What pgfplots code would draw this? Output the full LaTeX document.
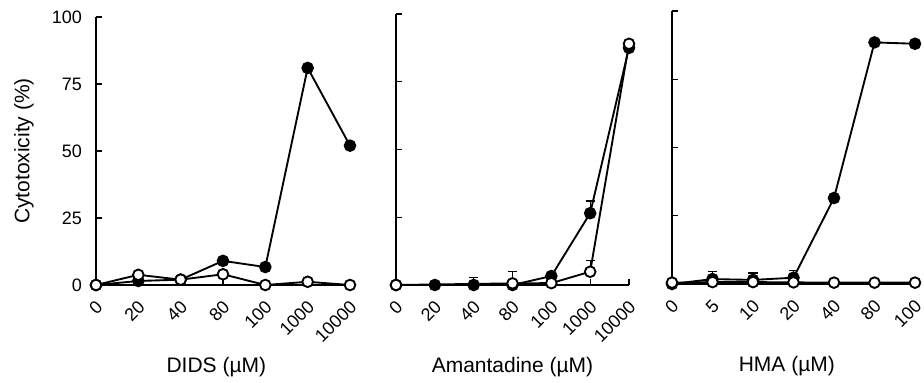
\documentclass[border=0pt]{standalone}
\usepackage{fontspec}
\setmainfont{Liberation Sans}
\usepackage{pgfplots}
\pgfplotsset{compat=1.18}
\pgfplotsset{
 panel/.style={
  scale only axis, xmin=0, xmax=6, ymin=0, ymax=100,
  axis lines*=left, axis line style={line width=0.9pt},
  every tick/.style={line width=0.9pt, black},
  tick align=inside, major tick length=4.5pt,
  xtick={0,...,6}, ytick={0,25,50,75,100},
  tick label style={font=\fontsize{13.5}{15}\selectfont},
  /pgf/number format/assume math mode=true,
  xticklabel style={xshift=5pt, yshift=-11.5pt, rotate=45, anchor=east},
  yticklabel style={xshift=-7pt},
  label style={font=\fontsize{15.75}{18}\selectfont},
  xlabel style={at={(axis description cs:0.5,0)}, anchor=center, yshift=-61.5pt},
  clip=false,
 },
 filled/.style={black, line width=1.4pt, mark=*, mark size=4pt, mark options={fill=black, solid}},
 open/.style={black, line width=1.4pt, mark=*, mark size=4pt, mark options={fill=white, solid}},
 eb/.style={error bars/.cd, y dir=plus, y explicit, error bar style={line width=0.9pt, black}, error mark options={rotate=90, mark size=3.5pt, line width=0.9pt, black}},
}
\begin{document}
\begin{tikzpicture}
\useasboundingbox (0,0) rectangle (693pt,286.5pt);
% Panel 1: DIDS
\begin{axis}[panel, at={(72pt,72.75pt)}, anchor=south west, width=190.5pt, height=201pt,
  xticklabels={0,20,40,80,100,1000,10000},
  xlabel={DIDS (µM)}, xlabel style={xshift=-5pt},
  ylabel={Cytotoxicity (\%)},
  ylabel style={at={(axis description cs:-0.2835,0.5)}, anchor=center}]
\addplot[filled] coordinates {(0,0) (1,1.5) (2,2) (3,9) (4,6.7) (5,81) (6,52)};
\addplot[open] coordinates {(0,0) (1,3.8) (2,2) (3,4) (4,0) (5,1.2) (6,0)};
\end{axis}
% Panel 2: Amantadine
\begin{axis}[panel, at={(297pt,72.75pt)}, anchor=south west, width=174.75pt, height=203.25pt,
  xticklabels={0,20,40,80,100,1000,10000}, yticklabels={},
  xlabel={Amantadine (µM)}]
\addplot[filled, eb] coordinates {(0,0) +- (0,0) (1,0) +- (0,0) (2,0) +- (0,2.8) (3,0) +- (0,0) (4,3.3) +- (0,0) (5,26.5) +- (0,4.5) (6,87.5) +- (0,0)};
\addplot[open, eb] coordinates {(0,0) +- (0,0) (3,0.6) +- (0,4.3) (4,0.7) +- (0,0) (5,4.9) +- (0,4) (6,89) +- (0,0)};
\end{axis}
% Panel 3: HMA
\begin{axis}[panel, at={(504pt,73.5pt)}, anchor=south west, width=182.25pt, height=204.75pt,
  xticklabels={0,5,10,20,40,80,100}, yticklabels={},
  xlabel={HMA (µM)}, xlabel style={xshift=-5pt}]
\addplot[filled, eb] coordinates {(0,0) +- (0,0) (1,1.8) +- (0,2.7) (2,1.5) +- (0,2.5) (3,2.3) +- (0,2.7) (4,31.5) +- (0,0) (5,88.5) +- (0,0) (6,88) +- (0,0)};
\addplot[open] coordinates {(0,0.5) (1,0.7) (2,0.7) (3,0.6) (4,0.5) (5,0.5) (6,0.5)};
\end{axis}
\end{tikzpicture}
\end{document}
